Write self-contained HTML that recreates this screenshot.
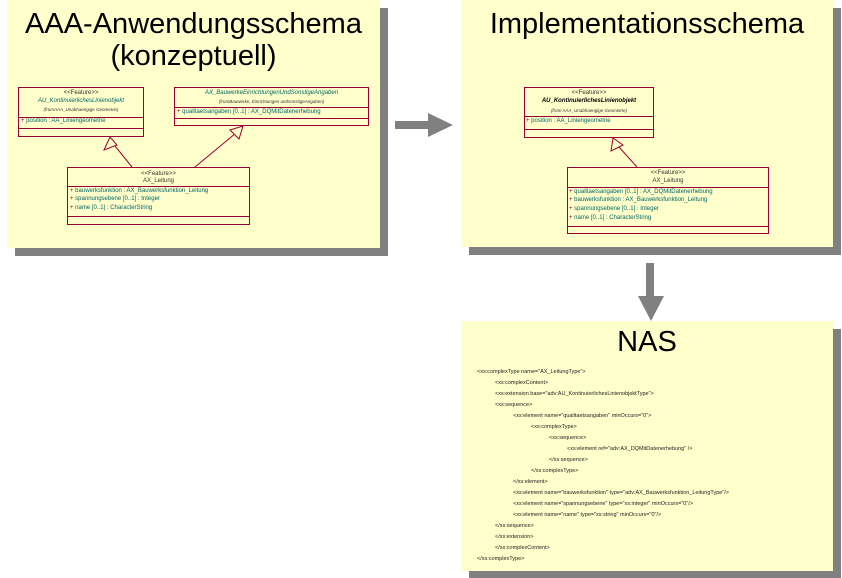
<!DOCTYPE html>
<html><head><meta charset="utf-8"><style>
body{margin:0;width:842px;height:578px;background:#fff;position:relative;overflow:hidden;font-family:"Liberation Sans",sans-serif}
.p{position:absolute;background:#ffffcc;box-shadow:8px 8px 0 #808080}
.t{position:absolute;font-size:29px;color:#000;text-align:center;line-height:32px}
.b{position:absolute;border:1px solid #990033;box-sizing:border-box;font-size:6px;color:#333}
.h{position:absolute;left:0;right:0;border-top:1px solid #990033}
.s{position:absolute;font-size:6px;white-space:nowrap;color:#333;line-height:7px}
.c{position:absolute;font-size:5.5px;white-space:nowrap;color:#222}
</style></head><body>
<div class="p" style="left:7px;top:0;width:373px;height:248px"></div>
<div class="p" style="left:461px;top:0;width:372px;height:247px"></div>
<div class="p" style="left:461px;top:321px;width:372px;height:250px"></div>
<div class="t" style="left:7px;top:8px;width:373px">AAA-Anwendungsschema<br>(konzeptuell)</div>
<div class="t" style="left:461px;top:8px;width:372px">Implementationsschema</div>
<div class="t" style="left:461px;top:326px;width:372px">NAS</div>

<!-- panel 1 boxes -->
<div class="b" style="left:18px;top:87px;width:126px;height:50px">
<div class="s" style="left:0;right:0;top:2px;text-align:center">&lt;&lt;Feature&gt;&gt;</div>
<div class="s" style="left:0;right:0;top:10px;text-align:center;font-style:italic;color:#006666">AU_KontinuierlichesLinienobjekt</div>
<div class="s" style="left:0;right:0;top:18px;text-align:center;font-style:italic;font-size:4.5px">(fromAAA_Unabhaengige Geometrie)</div>
<div class="h" style="top:29px"></div>
<div class="s" style="left:2px;top:30px;color:#006666"><span style="color:#990033">+</span> position : AA_Liniengeometrie</div>
<div class="h" style="top:40px"></div></div>

<div class="b" style="left:174px;top:87px;width:195px;height:39px">
<div class="s" style="left:0;right:0;top:2px;text-align:center;font-style:italic;color:#006666">AX_BauwerkeEinrichtungenUndSonstigeAngaben</div>
<div class="s" style="left:0;right:0;top:10px;text-align:center;font-style:italic;font-size:4.5px">(fromBauwerke, Einrichtungen undsonstigeAngaben)</div>
<div class="h" style="top:19px"></div>
<div class="s" style="left:2px;top:21px;color:#006666"><span style="color:#990033">+</span> qualitaetsangaben [0..1] : AX_DQMitDatenerhebung</div>
<div class="h" style="top:30px"></div></div>

<div class="b" style="left:67px;top:167px;width:183px;height:58px">
<div class="s" style="left:0;right:0;top:3px;text-align:center">&lt;&lt;Feature&gt;&gt;</div>
<div class="s" style="left:0;right:0;top:10px;text-align:center">AX_Leitung</div>
<div class="h" style="top:18px"></div>
<div class="s" style="left:2px;top:20px;color:#006666"><span style="color:#990033">+</span> bauwerksfunktion : AX_Bauwerksfunktion_Leitung</div>
<div class="s" style="left:2px;top:28px;color:#006666"><span style="color:#990033">+</span> spannungsebene [0..1] : Integer</div>
<div class="s" style="left:2px;top:37px;color:#006666"><span style="color:#990033">+</span> name [0..1] : CharacterString</div>
<div class="h" style="top:48px"></div></div>

<!-- panel 2 boxes -->
<div class="b" style="left:524px;top:87px;width:130px;height:51px">
<div class="s" style="left:0;right:0;top:2px;text-align:center">&lt;&lt;Feature&gt;&gt;</div>
<div class="s" style="left:0;right:0;top:10px;text-align:center;font-style:italic;font-weight:bold;color:#000">AU_KontinuierlichesLinienobjekt</div>
<div class="s" style="left:0;right:0;top:19px;text-align:center;font-style:italic;font-size:4.5px">(from AAA_Unabhaengige Geometrie)</div>
<div class="h" style="top:28px"></div>
<div class="s" style="left:1px;top:30px;color:#006666"><span style="color:#990033">+</span> position : AA_Liniengeometrie</div>
<div class="h" style="top:41px"></div></div>

<div class="b" style="left:567px;top:167px;width:202px;height:67px">
<div class="s" style="left:0;right:0;top:2px;text-align:center">&lt;&lt;Feature&gt;&gt;</div>
<div class="s" style="left:0;right:0;top:10px;text-align:center">AX_Leitung</div>
<div class="h" style="top:19px"></div>
<div class="s" style="left:1px;top:21px;color:#006666"><span style="color:#990033">+</span> qualitaetsangaben [0..1] : AX_DQMitDatenerhebung</div>
<div class="s" style="left:1px;top:29px;color:#006666"><span style="color:#990033">+</span> bauwerksfunktion : AX_Bauwerksfunktion_Leitung</div>
<div class="s" style="left:1px;top:38px;color:#006666"><span style="color:#990033">+</span> spannungsebene [0..1] : Integer</div>
<div class="s" style="left:1px;top:47px;color:#006666"><span style="color:#990033">+</span> name [0..1] : CharacterString</div>
<div class="h" style="top:58px"></div></div>

<svg width="842" height="578" style="position:absolute;left:0;top:0">
<g stroke="#990033" stroke-width="1" fill="#ffffcc">
<line x1="132" y1="167" x2="115" y2="146"/>
<polygon points="110,137 104,150 117,145"/>
<line x1="195" y1="167" x2="236" y2="133"/>
<polygon points="243,126 230,130 239,139"/>
<line x1="637" y1="167" x2="618" y2="146"/>
<polygon points="613,138 611,151 623,145"/>
</g>
<g fill="#808080">
<rect x="395" y="121" width="34" height="8"/>
<polygon points="428,113 453,125 428,137"/>
<rect x="646" y="263" width="8" height="34"/>
<polygon points="638,296 664,296 651,321"/>
</g>
</svg>

<div class="c" style="left:477px;top:369px">&lt;xs:complexType name="AX_LeitungType"&gt;</div>
<div class="c" style="left:495px;top:380px">&lt;xs:complexContent&gt;</div>
<div class="c" style="left:495px;top:391px">&lt;xs:extension base="adv:AU_KontinuierlichesLinienobjektType"&gt;</div>
<div class="c" style="left:495px;top:402px">&lt;xs:sequence&gt;</div>
<div class="c" style="left:513px;top:413px">&lt;xs:element name="qualitaetsangaben" minOccurs="0"&gt;</div>
<div class="c" style="left:531px;top:424px">&lt;xs:complexType&gt;</div>
<div class="c" style="left:549px;top:435px">&lt;xs:sequence&gt;</div>
<div class="c" style="left:567px;top:446px">&lt;xs:element ref="adv:AX_DQMitDatenerhebung" /&gt;</div>
<div class="c" style="left:549px;top:457px">&lt;/xs:sequence&gt;</div>
<div class="c" style="left:531px;top:468px">&lt;/xs:complexType&gt;</div>
<div class="c" style="left:513px;top:479px">&lt;/xs:element&gt;</div>
<div class="c" style="left:513px;top:490px">&lt;xs:element name="bauwerksfunktion" type="adv:AX_Bauwerksfunktion_LeitungType"/&gt;</div>
<div class="c" style="left:513px;top:501px">&lt;xs:element name="spannungsebene" type="xs:integer" minOccurs="0"/&gt;</div>
<div class="c" style="left:513px;top:512px">&lt;xs:element name="name" type="xs:string" minOccurs="0"/&gt;</div>
<div class="c" style="left:495px;top:523px">&lt;/xs:sequence&gt;</div>
<div class="c" style="left:495px;top:534px">&lt;/xs:extension&gt;</div>
<div class="c" style="left:495px;top:545px">&lt;/xs:complexContent&gt;</div>
<div class="c" style="left:477px;top:556px">&lt;/xs:complexType&gt;</div>
</body></html>
